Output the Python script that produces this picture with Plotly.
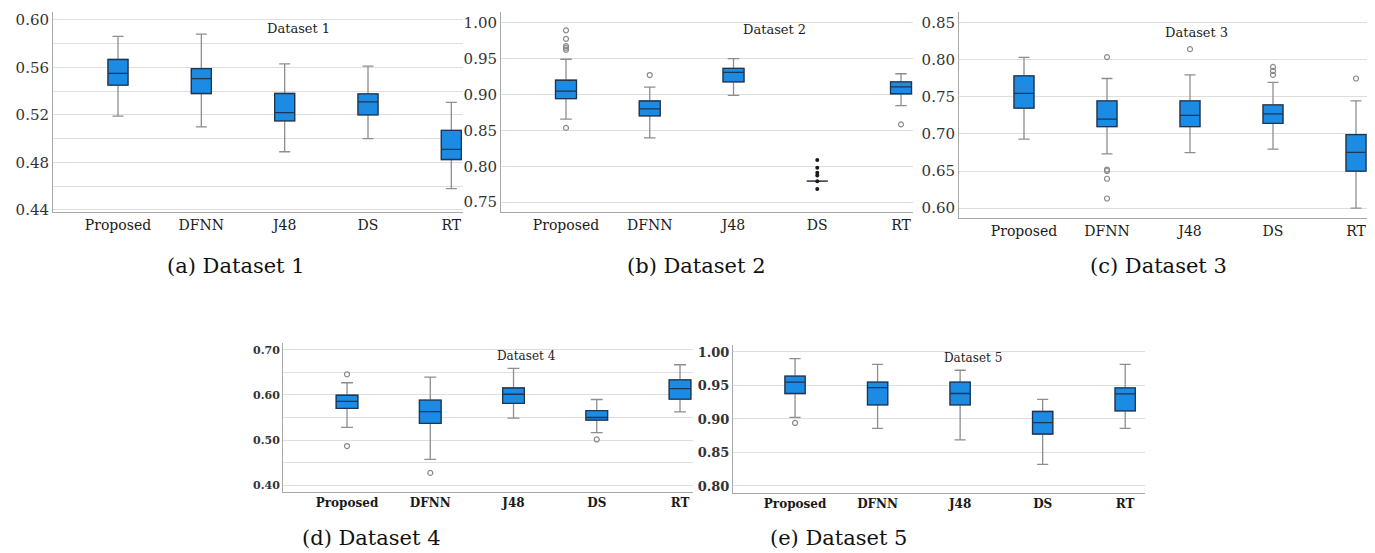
import plotly.graph_objects as go

categories = ["Proposed", "DFNN", "J48", "DS", "RT"]

# Dataset 1
d1_lower = [0.519, 0.510, 0.489, 0.500, 0.458]
d1_q1 = [0.545, 0.538, 0.515, 0.520, 0.4825]
d1_median = [0.555, 0.5505, 0.522, 0.531, 0.491]
d1_q3 = [0.5666, 0.559, 0.538, 0.5377, 0.507]
d1_upper = [0.586, 0.588, 0.563, 0.561, 0.5305]
d1_out_cat = []
d1_out_val = []

# Dataset 2
d2_lower = [0.8658, 0.8397, 0.8988, 0.7793, 0.8846]
d2_q1 = [0.8942, 0.8704, 0.9176, 0.7793, 0.9011]
d2_median = [0.9048, 0.880, 0.9309, 0.7793, 0.9107]
d2_q3 = [0.9199, 0.891, 0.9364, 0.7793, 0.9176]
d2_upper = [0.9492, 0.9103, 0.950, 0.7793, 0.929]
d2_out_cat = ["Proposed"] * 6 + ["DFNN", "RT"]
d2_out_val = [0.9895, 0.9776, 0.9675, 0.9652, 0.9625, 0.8535, 0.9272, 0.8585]
d2_ext_cat = ["DS"] * 6
d2_ext_val = [0.8087, 0.7981, 0.7912, 0.7871, 0.7793, 0.7683]

# Dataset 3
d3_lower = [0.693, 0.673, 0.6747, 0.6796, 0.600]
d3_q1 = [0.7348, 0.7099, 0.7099, 0.7143, 0.6498]
d3_median = [0.7548, 0.7201, 0.725, 0.7272, 0.6752]
d3_q3 = [0.7784, 0.7446, 0.7446, 0.7392, 0.6992]
d3_upper = [0.8033, 0.7748, 0.7797, 0.7695, 0.7446]
d3_out_cat = ["DFNN"] * 5 + ["J48"] + ["DS"] * 3 + ["RT"]
d3_out_val = [0.8037, 0.652, 0.650, 0.6396, 0.6129, 0.8144, 0.7904, 0.785, 0.7797, 0.7748]

# Dataset 4
d4_lower = [0.5282, 0.4568, 0.5485, 0.5165, 0.5624]
d4_q1 = [0.5704, 0.5369, 0.5813, 0.5442, 0.5908]
d4_median = [0.5857, 0.5631, 0.6017, 0.550, 0.6141]
d4_q3 = [0.5995, 0.5886, 0.6155, 0.5653, 0.6337]
d4_upper = [0.6272, 0.6396, 0.6592, 0.590, 0.6672]
d4_out_cat = ["Proposed", "Proposed", "DFNN", "DS"]
d4_out_val = [0.6461, 0.4866, 0.4269, 0.5012]

# Dataset 5
d5_lower = [0.9024, 0.8859, 0.8688, 0.8322, 0.8859]
d5_q1 = [0.938, 0.921, 0.921, 0.8776, 0.9122]
d5_median = [0.9551, 0.9468, 0.938, 0.8946, 0.9376]
d5_q3 = [0.9639, 0.9551, 0.9551, 0.9112, 0.9463]
d5_upper = [0.9902, 0.9815, 0.9727, 0.9293, 0.9815]
d5_out_cat = ["Proposed"]
d5_out_val = [0.8941]

titles = ["Dataset 1", "Dataset 2", "Dataset 3", "Dataset 4", "Dataset 5"]
captions = ["(a) Dataset 1", "(b) Dataset 2", "(c) Dataset 3", "(d) Dataset 4", "(e) Dataset 5"]

W, H = 1375, 553
FILL = "#1b8be3"
EDGE = "#1f3550"
WHISK = "#8e8e8e"
SERIF = "DejaVu Serif"

panels = [
    dict(data=(d1_lower, d1_q1, d1_median, d1_q3, d1_upper, d1_out_cat, d1_out_val),
         px=(45, 455), py=(3, 206), yr=(0.4383, 0.6066), xr=(-0.78, 4.14), bw=0.24,
         tickvals=[0.44, 0.46, 0.48, 0.50, 0.52, 0.54, 0.56, 0.58, 0.60],
         ticktext=["0.44", "", "0.48", "", "0.52", "", "0.56", "", "0.60"],
         tfs=15, cfs=14, bold=False, title_pos=(290, 20), tsize=13),
    dict(data=(d2_lower, d2_q1, d2_median, d2_q3, d2_upper, d2_out_cat, d2_out_val),
         px=(493, 905), py=(3, 206), yr=(0.7363, 1.0151), xr=(-0.776, 4.143), bw=0.25,
         tickvals=[0.75, 0.80, 0.85, 0.90, 0.95, 1.00],
         ticktext=["0.75", "0.80", "0.85", "0.90", "0.95", "1.00"],
         tfs=15, cfs=14, bold=False, title_pos=(767, 21), tsize=13),
    dict(data=(d3_lower, d3_q1, d3_median, d3_q3, d3_upper, d3_out_cat, d3_out_val),
         px=(951, 1372), py=(3, 212), yr=(0.5867, 0.8646), xr=(-0.783, 4.289), bw=0.24,
         tickvals=[0.60, 0.65, 0.70, 0.75, 0.80, 0.85],
         ticktext=["0.60", "0.65", "0.70", "0.75", "0.80", "0.85"],
         tfs=15, cfs=14, bold=False, title_pos=(1188, 24), tsize=13),
    dict(data=(d4_lower, d4_q1, d4_median, d4_q3, d4_upper, d4_out_cat, d4_out_val),
         px=(275, 685), py=(339, 490), yr=(0.3847, 0.7153), xr=(-0.769, 4.156), bw=0.26,
         tickvals=[0.40, 0.45, 0.50, 0.55, 0.60, 0.65, 0.70],
         ticktext=["0.40", "", "0.50", "", "0.60", "", "0.70"],
         tfs=11, cfs=12, bold=True, title_pos=(518, 352), tsize=12),
    dict(data=(d5_lower, d5_q1, d5_median, d5_q3, d5_upper, d5_out_cat, d5_out_val),
         px=(725, 1137), py=(341, 491), yr=(0.7897, 1.0103), xr=(-0.752, 4.24), bw=0.245,
         tickvals=[0.80, 0.85, 0.90, 0.95, 1.00],
         ticktext=["0.80", "0.85", "0.90", "0.95", "1.00"],
         tfs=13, cfs=12, bold=True, title_pos=(965, 354), tsize=12),
]

fig = go.Figure()
annotations = []

for i, p in enumerate(panels, start=1):
    lo, q1, med, q3, hi, oc, ov = p["data"]
    xa = "x" if i == 1 else f"x{i}"
    ya = "y" if i == 1 else f"y{i}"
    # whiskers + box (gray lines)
    fig.add_trace(go.Box(
        x=categories, q1=q1, median=med, q3=q3, lowerfence=lo, upperfence=hi,
        fillcolor=FILL, line=dict(color=WHISK, width=1.3), whiskerwidth=0.55,
        width=p["bw"], boxpoints=False, showlegend=False, hoverinfo="skip",
        xaxis=xa, yaxis=ya))
    # box outline and median (dark lines)
    fig.add_trace(go.Box(
        x=categories, q1=q1, median=med, q3=q3, lowerfence=q1, upperfence=q3,
        fillcolor=FILL, line=dict(color=EDGE, width=1.3), whiskerwidth=0,
        width=p["bw"], boxpoints=False, showlegend=False, hoverinfo="skip",
        xaxis=xa, yaxis=ya))
    if oc:
        fig.add_trace(go.Scatter(
            x=oc, y=ov, mode="markers", showlegend=False, hoverinfo="skip",
            marker=dict(symbol="circle-open", size=5, color="#8a8a8a", line=dict(width=1.2)),
            xaxis=xa, yaxis=ya))
    if i == 2:
        fig.add_trace(go.Scatter(
            x=d2_ext_cat, y=d2_ext_val, mode="markers", showlegend=False, hoverinfo="skip",
            marker=dict(symbol="circle", size=4, color="#1a1a1a"),
            xaxis=xa, yaxis=ya))

    weight = "bold" if p["bold"] else "normal"
    x0, x1 = p["px"]
    yt, yb = p["py"]
    fig.update_layout({
        ("xaxis" if i == 1 else f"xaxis{i}"): dict(
            domain=[x0 / W, x1 / W], anchor=ya, type="category",
            categoryorder="array", categoryarray=categories,
            range=list(p["xr"]), showgrid=False, zeroline=False,
            showline=True, linecolor="#a8a8a8", linewidth=1, ticks="",
            tickfont=dict(family=SERIF, size=p["cfs"], color="#1a1a1a", weight=weight),
            fixedrange=True),
        ("yaxis" if i == 1 else f"yaxis{i}"): dict(
            domain=[1 - yb / H, 1 - yt / H], anchor=xa,
            range=list(p["yr"]), tickvals=p["tickvals"], ticktext=p["ticktext"],
            showgrid=True, gridcolor="#dedede", gridwidth=1, zeroline=False,
            showline=True, linecolor="#a8a8a8", linewidth=1, ticks="",
            tickfont=dict(family=SERIF, size=p["tfs"], color="#333333", weight=weight),
            fixedrange=True),
    })
    tx, ty = p["title_pos"]
    annotations.append(dict(
        x=tx / W, y=1 - ty / H, xref="paper", yref="paper", text=titles[i - 1],
        showarrow=False, xanchor="center", yanchor="middle",
        font=dict(family=SERIF, size=p["tsize"], color="#222222")))

cap_pos = [(228, 261), (688, 261), (1150, 261), (364, 537), (830, 537)]
for (cx, cy), txt in zip(cap_pos, captions):
    annotations.append(dict(
        x=cx / W, y=1 - cy / H, xref="paper", yref="paper", text=txt,
        showarrow=False, xanchor="center", yanchor="middle",
        font=dict(family=SERIF, size=21, color="#111111")))

fig.update_layout(
    width=W, height=H, autosize=False,
    margin=dict(l=0, r=0, t=0, b=0),
    paper_bgcolor="white", plot_bgcolor="white",
    boxmode="overlay", annotations=annotations,
)

fig.write_html("out.html")
